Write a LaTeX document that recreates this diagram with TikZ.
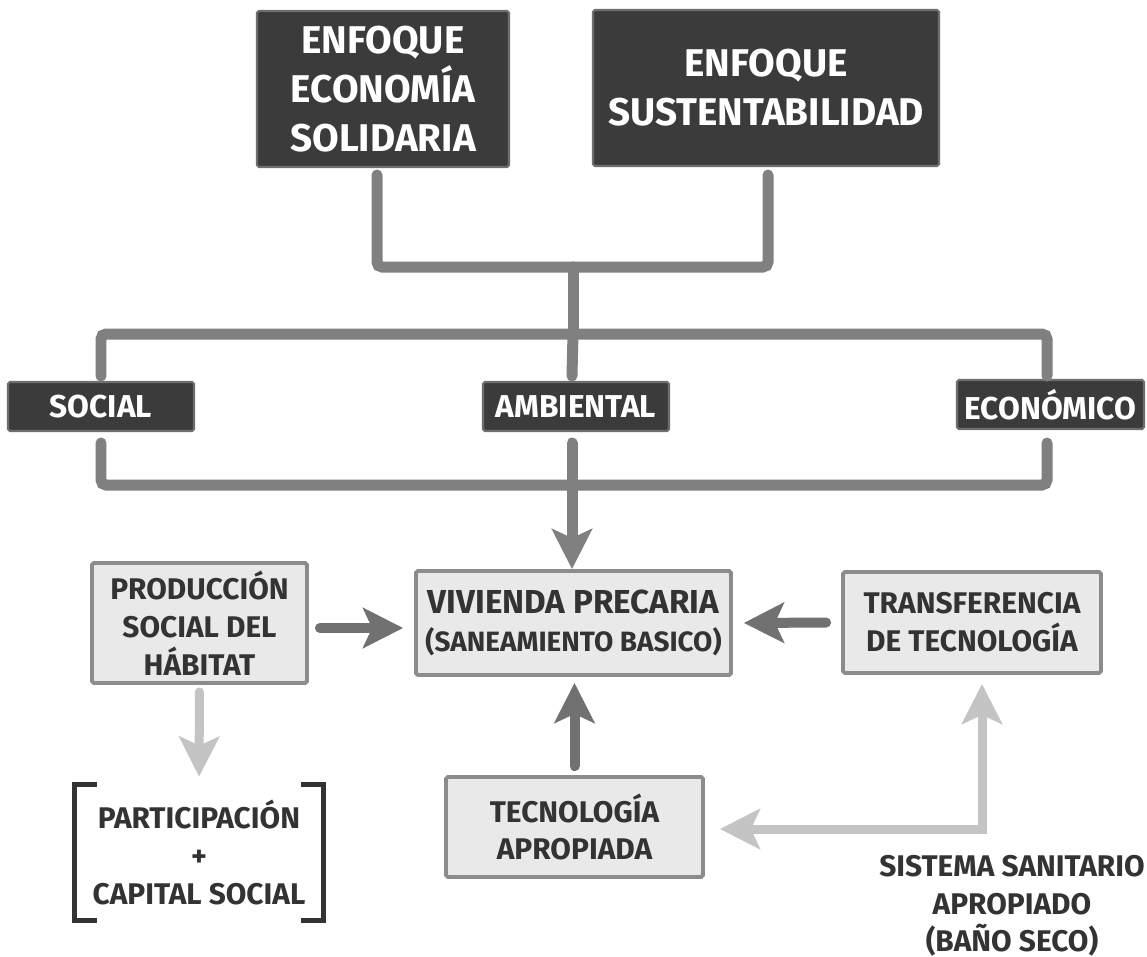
\documentclass[tikz,border=0pt]{standalone}
\usepackage{fontspec}
\setmainfont{Fira Sans}
\usetikzlibrary{arrows.meta,calc}

\definecolor{boxdark}{HTML}{3B3B3B}
\definecolor{boxline}{HTML}{6E6E6E}
\definecolor{linegray}{HTML}{808080}
\definecolor{arrowdark}{HTML}{717171}
\definecolor{arrowlight}{HTML}{C4C4C4}
\definecolor{boxlight}{HTML}{E9E9E9}
\definecolor{boxlightline}{HTML}{8C8C8C}
\definecolor{textdark}{HTML}{333333}

\tikzset{bigtip/.tip={Stealth[length=0.8cm, width=0.8cm, inset=0.18cm]}}

\begin{document}
\begin{tikzpicture}
    [x=0.02cm, y=-0.02cm, font=\bfseries,
     darkbox/.style={draw=boxline, line width=1.2pt, fill=boxdark, text=white, rounded corners=1pt, align=center, inner sep=0pt},
     lightbox/.style={draw=boxlightline, line width=2.2pt, fill=boxlight, text=textdark, rounded corners=1pt, align=center, inner sep=0pt, font=\fontsize{17}{21.5}\selectfont\bfseries},
     conn/.style={draw=linegray, line width=0.22cm, line cap=round, rounded corners=0.1cm},
     arrdark/.style={draw=arrowdark, line width=0.2cm, line cap=round, -bigtip},
     arrlight/.style={draw=arrowlight, line width=0.18cm, line cap=round, -bigtip},
     bracket/.style={draw=textdark, line width=0.1cm}]
    \path[fill=white] (0,0) rectangle (1147,957);

    % enfoques
    \node[darkbox, minimum width=5.04cm, minimum height=3.12cm, font=\fontsize{22}{27.8}\selectfont\bfseries] (eco) at (383,89) {ENFOQUE\\ECONOMÍA\\SOLIDARIA};
    \node[darkbox, minimum width=6.92cm, minimum height=3.12cm, font=\fontsize{22}{27.8}\selectfont\bfseries] (sust) at (766,88) {ENFOQUE\\SUSTENTABILIDAD};

    % dimensiones
    \node[darkbox, minimum width=3.72cm, minimum height=0.98cm, font=\fontsize{18}{20}\selectfont\bfseries] (social) at (101,406.5) {SOCIAL};
    \node[darkbox, minimum width=3.72cm, minimum height=0.98cm, font=\fontsize{18}{20}\selectfont\bfseries] (ambiental) at (576,406.5) {AMBIENTAL};
    \node[darkbox, minimum width=3.74cm, minimum height=0.98cm, font=\fontsize{18}{20}\selectfont\bfseries] (economico) at (1050.5,404.5) {ECONÓMICO};

    % cajas inferiores
    \node[lightbox, minimum width=6.3cm, minimum height=2.08cm] (vivienda) at (573.5,623) {{\fontsize{18.9}{21.5}\selectfont VIVIENDA PRECARIA}\\{\fontsize{15.9}{21.5}\selectfont (SANEAMIENTO BASICO)}};
    \node[lightbox, minimum width=4.3cm, minimum height=2.4cm] (produccion) at (199.5,623) {PRODUCCIÓN\\SOCIAL DEL\\HÁBITAT};
    \node[lightbox, minimum width=5.16cm, minimum height=2.02cm] (transferencia) at (972,622.5) {TRANSFERENCIA\\DE TECNOLOGÍA};
    \node[lightbox, minimum width=5.14cm, minimum height=2cm] (tecnologia) at (574.5,827) {TECNOLOGÍA\\APROPIADA};
    \node[align=center, text=textdark, inner sep=0pt, minimum width=4.96cm, minimum height=2.7cm, font=\fontsize{17}{21.5}\selectfont\bfseries] (partic) at (199,852.5) {PARTICIPACIÓN\\+\\CAPITAL SOCIAL};
    \node[align=center, text=textdark, inner sep=0pt, font=\fontsize{17}{21.2}\selectfont\bfseries] (sistema) at (1012,906) {SISTEMA SANITARIO\\APROPIADO\\(BAÑO SECO)};

    % puntos de union
    \coordinate (ecoS) at (377,175);
    \coordinate (sustS) at (768,175);
    \coordinate (topJ) at (573,267);
    \coordinate (midJ) at (573,334);
    \coordinate (socialN) at (101,376);
    \coordinate (ambientalN) at (572,376);
    \coordinate (economicoN) at (1047,376);
    \coordinate (socialS) at (101,443);
    \coordinate (ambientalS) at (572,443);
    \coordinate (economicoS) at (1047,443);
    \coordinate (lowJ) at (572,485);
    \coordinate (corner) at (982,829);

    \draw[conn] (ecoS) |- (topJ) -| (sustS);
    \draw[conn] (topJ) -- (midJ);
    \draw[conn] (socialN) |- (midJ) -| (economicoN);
    \draw[conn] (midJ) -- (ambientalN);
    \draw[conn] (socialS) |- (lowJ) -| (economicoS);
    \draw[conn, -bigtip, rounded corners=0pt] (ambientalS) -- (ambientalS |- vivienda.north);

    \draw[arrdark, shorten <=0.22cm, shorten >=0.22cm] ([yshift=-0.1cm]produccion.east) -- ([yshift=-0.1cm]vivienda.west);
    \draw[arrdark, shorten <=0.3cm, shorten >=0.22cm] (transferencia.west) -- (vivienda.east);
    \draw[arrdark, shorten <=0.18cm, shorten >=0.12cm] (tecnologia.north) -- (tecnologia.north |- vivienda.south);

    \draw[arrlight, shorten <=0.14cm, shorten >=0.16cm] (produccion.south) -- (partic.north);
    \draw[arrlight, bigtip-bigtip, shorten <=0.3cm, shorten >=0.18cm] (tecnologia.east |- corner) -- (corner) -- (corner |- transferencia.south);

    \draw[bracket] ($(partic.north west)+(22,0)$) -- (partic.north west) -- (partic.south west) -- ($(partic.south west)+(22,0)$);
    \draw[bracket] ($(partic.north east)+(-22,0)$) -- (partic.north east) -- (partic.south east) -- ($(partic.south east)+(-22,0)$);
\end{tikzpicture}
\end{document}
